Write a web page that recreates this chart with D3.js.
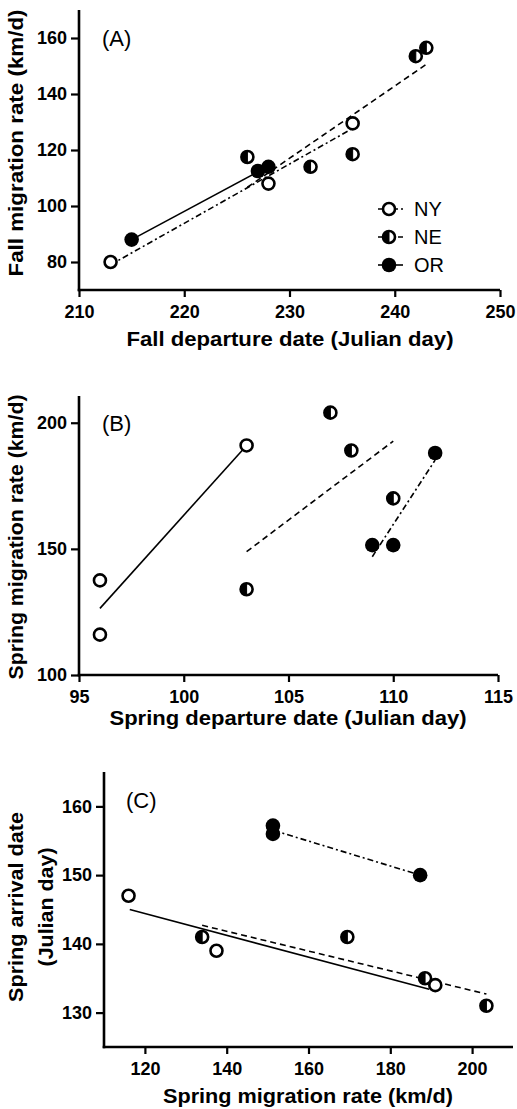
<!DOCTYPE html>
<html>
<head>
<meta charset="utf-8">
<script src="https://cdn.jsdelivr.net/npm/d3@7"></script>
<style>
  body { margin: 0; background: #fff; }
  svg { display: block; }
  text { font-family: "Liberation Sans", Arial, sans-serif; fill: #000; }
</style>
</head>
<body>
<svg id="chart" width="517" height="1109"></svg>
<script>
// ---- panel A: fall departure vs fall migration rate
const fallNY = [[213, 80], [228, 108], [236, 129.5]]
const fallNE = [[226, 117.5], [232, 114], [236, 118.5], [242, 153.5], [243, 156.5]]
const fallOR = [[215, 88], [227, 112.5], [228, 114]]
const fallFitNY = [[213, 79], [236, 127.7]]
const fallFitNE = [[226, 106.7], [243, 150.6]]
const fallFitOR = [[215, 88], [228, 114.2]]
const fallXTicks = [210, 220, 230, 240, 250]
const fallYTicks = [80, 100, 120, 140, 160]

// ---- panel B: spring departure vs spring migration rate
const springNY = [[96, 137.5], [96, 116], [103, 191]]
const springNE = [[103, 134], [107, 204], [108, 189], [110, 170]]
const springOR = [[109, 151.5], [110, 151.5], [112, 188]]
const springFitNY = [[96, 126.4], [103, 191]]
const springFitNE = [[103, 148.9], [110, 192.7]]
const springFitOR = [[109, 146.9], [112, 185.2]]
const springXTicks = [95, 100, 105, 110, 115]
const springYTicks = [100, 150, 200]

// ---- panel C: spring migration rate vs spring arrival
const arrivalNY = [[116, 147], [137.5, 139], [191, 134]]
const arrivalNE = [[134, 141], [169.5, 141], [188.5, 135], [203.5, 131]]
const arrivalOR = [[151.3, 157.2], [151.3, 156], [187.3, 150]]
const arrivalFitNY = [[116.3, 145], [189.5, 133.4]]
const arrivalFitNE = [[134, 142.7], [203.5, 132.7]]
const arrivalFitOR = [[151.5, 156.5], [187.3, 150]]
const arrivalXTicks = [120, 140, 160, 180, 200]
const arrivalYTicks = [130, 140, 150, 160]

const legendItems = ["NY", "NE", "OR"]

const svg = d3.select("#chart")

const DASHED = "6,4"
const DASHDOT = "6,3,2,3"

// marker: open / left-half filled / filled
function drawMarker(g, kind, x, y) {
  const r = 6
  if (kind === "open" || kind === "half") {
    g.append("circle").attr("cx", x).attr("cy", y).attr("r", r)
      .attr("fill", "#fff").attr("stroke", "#000").attr("stroke-width", 2.6)
    if (kind === "half") {
      g.append("path")
        .attr("d", `M${x},${y - r} A${r},${r} 0 0 0 ${x},${y + r} Z`)
        .attr("fill", "#000").attr("stroke", "#000").attr("stroke-width", 1)
    }
  } else {
    g.append("circle").attr("cx", x).attr("cy", y).attr("r", r + 1.3)
      .attr("fill", "#000")
  }
}

function drawPanel(cfg) {
  const g = svg.append("g")
  const x = d3.scaleLinear().domain(cfg.xDomain).range([cfg.left, cfg.right])
  const y = d3.scaleLinear().domain(cfg.yDomain).range([cfg.bottom, cfg.top])

  const xAxis = g.append("g")
    .attr("transform", `translate(0,${cfg.bottom})`)
    .call(d3.axisBottom(x).tickValues(cfg.xTicks).tickSize(7).tickPadding(8))
  const yAxis = g.append("g")
    .attr("transform", `translate(${cfg.left},0)`)
    .call(d3.axisLeft(y).tickValues(cfg.yTicks).tickSize(8).tickPadding(4))

  for (const ax of [xAxis, yAxis]) {
    ax.select(".domain").remove()
    ax.selectAll(".tick line").attr("stroke-width", 2.2)
    ax.selectAll("text")
      .attr("font-family", "Liberation Sans, Arial, sans-serif")
      .attr("font-weight", "bold").attr("font-size", 18)
  }
  // axis lines drawn so they meet at the corner
  g.append("line").attr("x1", cfg.left - 1.3).attr("x2", cfg.right)
    .attr("y1", cfg.bottom).attr("y2", cfg.bottom)
    .attr("stroke", "#000").attr("stroke-width", 2.6)
  g.append("line").attr("x1", cfg.left).attr("x2", cfg.left)
    .attr("y1", cfg.top).attr("y2", cfg.bottom + 1.3)
    .attr("stroke", "#000").attr("stroke-width", 2.6)

  const line = d3.line().x(d => x(d[0])).y(d => y(d[1]))
  cfg.fits.forEach(f => {
    g.append("path").datum(f.data).attr("d", line)
      .attr("fill", "none").attr("stroke", "#000").attr("stroke-width", 1.6)
      .attr("stroke-dasharray", f.dash)
  })

  cfg.series.forEach(s => {
    s.data.forEach(d => drawMarker(g, s.kind, x(d[0]), y(d[1])))
  })

  g.append("text").attr("x", cfg.tagX).attr("y", cfg.tagY)
    .attr("font-size", 22).attr("dominant-baseline", "central")
    .text(cfg.tag)

  g.append("text")
    .attr("x", cfg.xLabelX).attr("y", cfg.xLabelY)
    .attr("text-anchor", "middle").attr("dominant-baseline", "central")
    .attr("font-weight", "bold").attr("font-size", 20)
    .attr("textLength", cfg.xLabelW).attr("lengthAdjust", "spacingAndGlyphs")
    .text(cfg.xLabel)

  cfg.yLabel.forEach((t, i) => {
    g.append("text")
      .attr("transform", `translate(${cfg.yLabelX + i * 30},${cfg.yLabelY}) rotate(-90)`)
      .attr("text-anchor", "middle").attr("dominant-baseline", "central")
      .attr("font-weight", "bold").attr("font-size", 20)
      .attr("textLength", cfg.yLabelW[i]).attr("lengthAdjust", "spacingAndGlyphs")
      .text(t)
  })
  return { g, x, y }
}

const pA = drawPanel({
  xDomain: [210, 250], yDomain: [70, 170],
  left: 79, right: 500, top: 10, bottom: 290,
  xTicks: fallXTicks, yTicks: fallYTicks,
  fits: [
    { data: fallFitNY, dash: DASHDOT },
    { data: fallFitNE, dash: DASHED },
    { data: fallFitOR, dash: null }
  ],
  series: [
    { data: fallNY, kind: "open" },
    { data: fallNE, kind: "half" },
    { data: fallOR, kind: "filled" }
  ],
  tag: "(A)", tagX: 102, tagY: 38,
  xLabel: "Fall departure date (Julian day)", xLabelX: 290, xLabelY: 339, xLabelW: 327,
  yLabel: ["Fall migration rate (km/d)"], yLabelX: 16, yLabelY: 143, yLabelW: [267]
})

// legend in panel A
const legendKinds = ["open", "half", "filled"]
const legendDash = [DASHDOT, DASHED, null]
const legendY = d3.scalePoint().domain(legendItems).range([209, 265])
legendItems.forEach((name, i) => {
  const ly = legendY(name)
  pA.g.append("line").attr("x1", 378).attr("x2", 403).attr("y1", ly).attr("y2", ly)
    .attr("stroke", "#000").attr("stroke-width", 1.6).attr("stroke-dasharray", legendDash[i])
  drawMarker(pA.g, legendKinds[i], 389, ly)
  pA.g.append("text").attr("x", 414).attr("y", ly)
    .attr("dominant-baseline", "central").attr("font-size", 20).text(name)
})

drawPanel({
  xDomain: [95, 115], yDomain: [100, 210.6],
  left: 79, right: 498, top: 396, bottom: 675,
  xTicks: springXTicks, yTicks: springYTicks,
  fits: [
    { data: springFitNY, dash: null },
    { data: springFitNE, dash: DASHED },
    { data: springFitOR, dash: DASHDOT }
  ],
  series: [
    { data: springNY, kind: "open" },
    { data: springNE, kind: "half" },
    { data: springOR, kind: "filled" }
  ],
  tag: "(B)", tagX: 102, tagY: 423,
  xLabel: "Spring departure date (Julian day)", xLabelX: 288, xLabelY: 718, xLabelW: 357,
  yLabel: ["Spring migration rate (km/d)"], yLabelX: 16, yLabelY: 537, yLabelW: [285]
})

drawPanel({
  xDomain: [110, 210], yDomain: [125, 165],
  left: 104, right: 513, top: 772, bottom: 1047,
  xTicks: arrivalXTicks, yTicks: arrivalYTicks,
  fits: [
    { data: arrivalFitNY, dash: null },
    { data: arrivalFitNE, dash: DASHED },
    { data: arrivalFitOR, dash: DASHDOT }
  ],
  series: [
    { data: arrivalNY, kind: "open" },
    { data: arrivalNE, kind: "half" },
    { data: arrivalOR, kind: "filled" }
  ],
  tag: "(C)", tagX: 126, tagY: 800,
  xLabel: "Spring migration rate (km/d)", xLabelX: 308, xLabelY: 1096, xLabelW: 290,
  yLabel: ["Spring arrival date", "(Julian day)"], yLabelX: 16, yLabelY: 907, yLabelW: [190, 119]
})
</script>
</body>
</html>
